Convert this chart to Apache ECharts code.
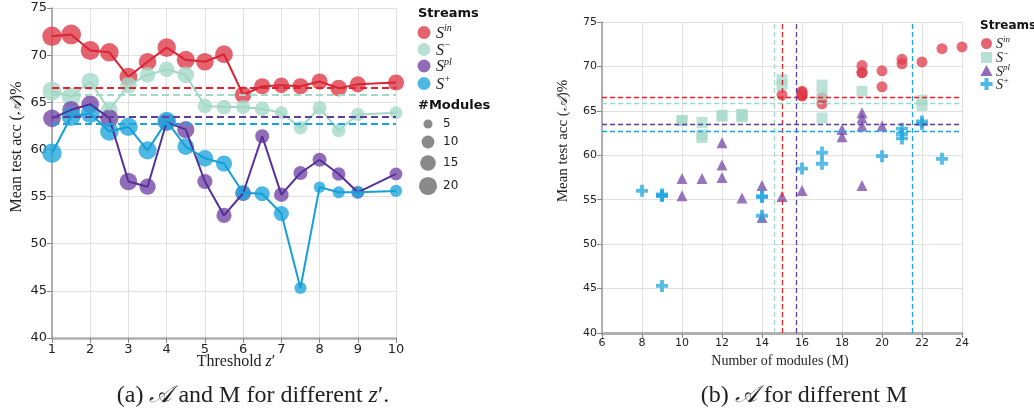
<!DOCTYPE html>
<html><head><meta charset="utf-8">
<script src="https://cdn.jsdelivr.net/npm/echarts@6/dist/echarts.min.js"></script>
<style>html,body{margin:0;padding:0;background:#fff}#c{width:1034px;height:412px}</style>
</head><body><div id="c"></div><script>
// ---- data ----
const thresholds = [1,1.5,2,2.5,3,3.5,4,4.5,5,5.5,6,6.5,7,7.5,8,8.5,9,10];
const streamSups = ['in','\u2212','pl','+'];
const accIn    = [72.0,72.2,70.5,70.3,67.7,69.3,70.8,69.5,69.3,70.1,65.8,66.7,66.8,66.7,67.2,66.5,66.9,67.1];
const modIn    = [23,24,22,21,20,19,21,20,19,19,17,16,15,16,16,17,16,16];
const accMinus = [66.2,65.6,67.2,64.2,66.8,67.9,68.5,67.9,64.6,64.5,64.5,64.3,63.9,62.3,64.4,62.0,63.7,63.9];
const modMinus = [22,22,19,17,17,15,15,17,13,13,12,13,10,11,12,11,11,10];
const accPl    = [63.3,64.2,64.8,63.3,56.6,56.05,62.9,62.1,56.6,53.0,55.35,61.4,55.2,57.5,58.9,57.4,55.45,57.4];
const modPl    = [19,19,19,20,19,16,18,18,14,14,15,12,13,12,12,11,10,10];
const accPlus  = [59.6,63.5,63.8,61.9,62.4,59.9,63.0,60.3,59.05,58.5,55.4,55.3,53.2,45.3,56.0,55.45,55.45,55.6];
const modPlus  = [23,22,22,21,21,20,21,17,17,16,14,14,14,9,8,9,9,9];
const meanAcc  = [66.5,65.85,63.5,62.7];
const meanMod  = [15.0,14.6,15.7,21.5];
const sizeLegendValues = [5,10,15,20];
const yTicks = {min:40,max:75,interval:5};

// ---- styles ----
const pointColors = ['#df3b4b','#a5d9c9','#7548a8','#20a6dc'];
const lineColors  = ['#d92433','#a3d8c5','#55309a','#159fd9'];
const dashColors  = ['#e02431','#a3d8c5','#5c3e9b','#1aa3de'];
const accs = [accIn,accMinus,accPl,accPlus];
const mods = [modIn,modMinus,modPl,modPlus];
const crossPath = 'path://M3.4,0H6.6V3.4H10V6.6H6.6V10H3.4V6.6H0V3.4H3.4Z';
const bSymbols = ['circle','rect','triangle',crossPath];
const bSizes = [11,11,11,12];
const sizeOf = m => 4.05*Math.sqrt(m);
const SANS = '"DejaVu Sans", Verdana, sans-serif';
const SERIF = '"Liberation Serif", "DejaVu Serif", serif';

const series = [];
for (let i=0;i<4;i++){
  series.push({type:'scatter', xAxisIndex:0, yAxisIndex:0, z:2,
    data: thresholds.map((z,k)=>[z,accs[i][k],mods[i][k]]),
    symbolSize: v=>sizeOf(v[2]),
    itemStyle:{color:pointColors[i], opacity:0.8}, silent:true});
}
for (let i=0;i<4;i++){
  series.push({type:'line', xAxisIndex:0, yAxisIndex:0, z:3,
    data: thresholds.map((z,k)=>[z,accs[i][k]]),
    showSymbol:false, lineStyle:{color:lineColors[i], width:2},
    markLine:{silent:true, symbol:['none','none'], label:{show:false},
      lineStyle:{color:dashColors[i], type:[7,4], width:2}, data:[{yAxis:meanAcc[i]}]}});
}
for (let i=0;i<4;i++){
  series.push({type:'scatter', xAxisIndex:1, yAxisIndex:1, z:2,
    data: mods[i].map((m,k)=>[m,accs[i][k]]),
    symbol:bSymbols[i], symbolSize:bSizes[i],
    itemStyle:{color:pointColors[i], opacity:0.75},
    markLine:{silent:true, symbol:['none','none'], label:{show:false},
      lineStyle:{color:dashColors[i], type:[5,3], width:1.3, opacity:1},
      data:[{yAxis:meanAcc[i]},{xAxis:meanMod[i]}]}});
}

function axisCommon(fs){
  return {
    axisLine:{show:true,onZero:false,lineStyle:{color:'#999',width:1.5}},
    axisTick:{show:true,length:5,lineStyle:{color:'#888'}},
    axisLabel:{color:'#222',fontSize:fs,fontFamily:SANS,margin:5},
    splitLine:{show:true,lineStyle:{color:'#e0e0e0',width:1}}
  };
}
const xA0 = Object.assign(axisCommon(13),{type:'value',gridIndex:0,min:1,max:10,interval:1});
xA0.axisLine = {show:true,onZero:false,lineStyle:{color:'#b0b0b0',width:2.5}};
const yA0 = Object.assign(axisCommon(13),yTicks,{type:'value',gridIndex:0});
const xA1 = Object.assign(axisCommon(11),{type:'value',gridIndex:1,min:6,max:24,interval:2});
xA1.axisLine = {show:true,onZero:false,lineStyle:{color:'#b0b0b0',width:3}};
const yA1 = Object.assign(axisCommon(11),yTicks,{type:'value',gridIndex:1});

const supRich = (fs)=>({
  s:{fontFamily:SERIF,fontStyle:'italic',fontSize:fs,lineHeight:fs+2,fill:'#222',verticalAlign:'bottom'},
  p:{fontFamily:SERIF,fontStyle:'italic',fontSize:Math.round(fs*0.65),lineHeight:fs+2,fill:'#222',verticalAlign:'top'}
});
const graphic = [];
// left legend
graphic.push({type:'text',left:418,top:7,style:{text:'Streams',font:'bold 13px '+SANS,fill:'#111'}});
const legY0 = [32.5,49.5,66,83.5];
for (let i=0;i<4;i++){
  graphic.push({type:'circle',shape:{cx:424,cy:legY0[i],r:6.5},style:{fill:pointColors[i],opacity:0.8}});
  graphic.push({type:'text',x:436,y:legY0[i],style:{text:'{s|S}{p|'+streamSups[i]+'}',rich:supRich(16),verticalAlign:'middle'}});
}
graphic.push({type:'text',left:418,top:99,style:{text:'#Modules',font:'bold 13px '+SANS,fill:'#111'}});
const sizeY = [124,142,163,186];
sizeLegendValues.forEach((m,k)=>{
  graphic.push({type:'circle',shape:{cx:428,cy:sizeY[k],r:sizeOf(m)/2},style:{fill:'#8a8a8a'}});
  graphic.push({type:'text',x:443,y:sizeY[k],style:{text:String(m),font:'12px '+SANS,fill:'#222',verticalAlign:'middle'}});
});
// right legend
graphic.push({type:'text',left:980,top:20,style:{text:'Streams',font:'bold 12px '+SANS,fill:'#111'}});
const legY1 = [43.5,57.5,71,84];
const lx = 986.5;
graphic.push({type:'circle',shape:{cx:lx,cy:legY1[0],r:5.5},style:{fill:pointColors[0],opacity:0.8}});
graphic.push({type:'rect',shape:{x:lx-5.5,y:legY1[1]-5.5,width:11,height:11},style:{fill:pointColors[1],opacity:0.8}});
graphic.push({type:'polygon',shape:{points:[[lx,legY1[2]-6],[lx+6,legY1[2]+5],[lx-6,legY1[2]+5]]},style:{fill:pointColors[2],opacity:0.8}});
graphic.push({type:'polygon',shape:{points:[[lx-2,legY1[3]-6],[lx+2,legY1[3]-6],[lx+2,legY1[3]-2],[lx+6,legY1[3]-2],[lx+6,legY1[3]+2],[lx+2,legY1[3]+2],[lx+2,legY1[3]+6],[lx-2,legY1[3]+6],[lx-2,legY1[3]+2],[lx-6,legY1[3]+2],[lx-6,legY1[3]-2],[lx-2,legY1[3]-2]]},style:{fill:pointColors[3],opacity:0.8}});
for (let i=0;i<4;i++){
  graphic.push({type:'text',x:996,y:legY1[i],style:{text:'{s|S}{p|'+streamSups[i]+'}',rich:supRich(14),verticalAlign:'middle'}});
}
// axis titles
const titleRich = (fs)=>({i:{fontFamily:SERIF,fontStyle:'italic',fontSize:fs,fill:'#222'},n:{fontFamily:SERIF,fontSize:fs,fill:'#222'}});
graphic.push({type:'text',x:17,y:147,rotation:Math.PI/2,style:{text:'{n|Mean test acc (}{i|\uD835\uDC9C}{n|)%}',rich:titleRich(16),align:'center',verticalAlign:'middle'}});
graphic.push({type:'text',x:563,y:141,rotation:Math.PI/2,style:{text:'{n|Mean test acc (}{i|\uD835\uDC9C}{n|)%}',rich:titleRich(15),align:'center',verticalAlign:'middle'}});
graphic.push({type:'text',x:236,y:362,style:{text:'{n|Threshold }{i|z}{n|\u2032}',rich:titleRich(16),align:'center',verticalAlign:'middle'}});
graphic.push({type:'text',x:780,y:361,style:{text:'{n|Number of modules (M)}',rich:titleRich(14),align:'center',verticalAlign:'middle'}});
// captions
graphic.push({type:'text',x:253,y:396,style:{text:'{n|(a) }{i|\uD835\uDC9C}{n| and M for different }{i|z}{n|\u2032.}',rich:titleRich(24),align:'center',verticalAlign:'middle'}});
graphic.push({type:'text',x:804,y:396,style:{text:'{n|(b) }{i|\uD835\uDC9C}{n| for different M}',rich:titleRich(24),align:'center',verticalAlign:'middle'}});

const chart = echarts.init(document.getElementById('c'),null,{renderer:'canvas'});
chart.setOption({
  animation:false,
  backgroundColor:'#fff',
  grid:[{left:52,top:8,width:344,height:330},{left:602,top:22,width:360,height:311}],
  xAxis:[xA0,xA1],
  yAxis:[yA0,yA1],
  series:series,
  graphic:graphic
});
</script></body></html>
